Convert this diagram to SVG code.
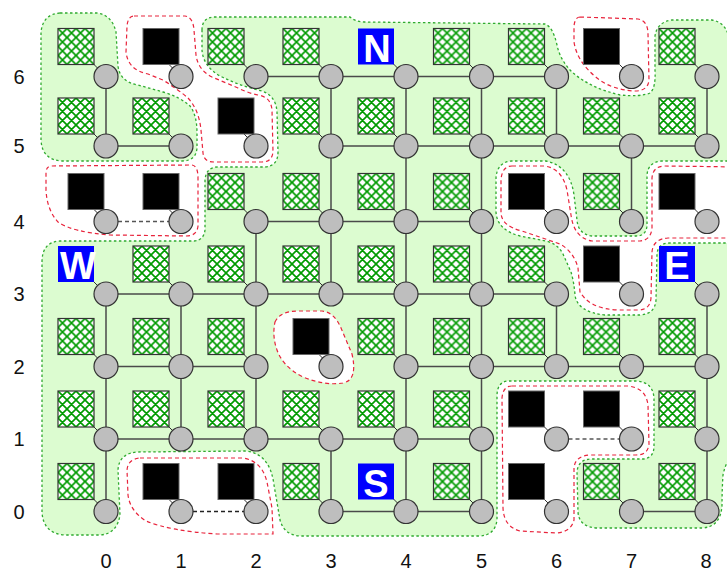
<svg xmlns="http://www.w3.org/2000/svg" width="727" height="573" viewBox="0 0 727 573">
<defs>
<pattern id="hatch" patternUnits="objectBoundingBox" width="0.25" height="0.25" patternContentUnits="objectBoundingBox">
<rect width="0.25" height="0.25" fill="#fff"/>
<path d="M0,0 L.25,.25 M-.0625,.1875 L.0625,.3125 M.1875,-.0625 L.3125,.0625 M.25,0 L0,.25 M-.0625,.0625 L.0625,-.0625 M.1875,.3125 L.3125,.1875" stroke="#009a00" stroke-width="0.046" fill="none"/>
</pattern>
<style>
.reg{fill:#dcfcd0;stroke:#2faa2f;stroke-width:1.3;stroke-dasharray:2.5 2.5}
.fz{fill:none;stroke:#e8243c;stroke-width:1.2;stroke-dasharray:4 3}
.fzw{fill:#fff;stroke:#e8243c;stroke-width:1.2;stroke-dasharray:4 3}
.e{stroke:#4a4a4a;stroke-width:1.5;fill:none}
.d{stroke:#555;stroke-width:1.5;stroke-dasharray:4 3}
.c{fill:#bebebe;stroke:#333;stroke-width:1.2}
.h{fill:url(#hatch);stroke:#333;stroke-width:1.2}
.b{fill:#000;stroke:#666;stroke-width:1}
.l{fill:#0000ff}
.t{stroke:#333;stroke-width:1}
.lt{font-family:"Liberation Sans",Arial,sans-serif;font-weight:bold;font-size:38px;fill:#fff;text-anchor:middle}
.ax{font-family:"Liberation Sans",Arial,sans-serif;font-size:20px;fill:#111;text-anchor:middle}
</style>
</defs>
<g id="regions">
<path class="reg" d="M 60,13 L 97,13 Q 112,15 116,32 L 118,66 Q 120,82 138,85 L 163,92 Q 180,97 190,106 Q 197,115 197,133 L 197,148 Q 196,161 182,161 L 62,161 Q 42,160 41,140 L 41,32 Q 43,14 60,13 Z"/>
<path class="reg" d="M 202,30 Q 202,17 215,17 L 350,17 Q 356,22 364,22 L 545,24 Q 553,27 557,45 Q 560,60 572,72 Q 590,88 620,95 Q 640,97 650,93 Q 656,88 655,70 L 655,36 Q 657,22 672,20 L 712,20 Q 724,22 728,34 L 740,40 L 740,161 L 662,161 Q 648,162 647,175 L 647,226 Q 646,236 636,236 L 592,236 Q 578,234 577,220 L 574,195 Q 570,166 546,161 L 512,161 Q 497,162 496,178 L 496,212 Q 497,230 520,236 L 546,241 Q 558,244 563,254 L 571,272 Q 574,282 575,295 Q 577,312 605,315 L 640,315 Q 655,314 656,300 L 657,254 Q 658,243 670,243 L 740,243 L 740,452 Q 727,455 723,475 Q 722,490 722,505 Q 721,527 702,528 L 597,528 Q 579,527 578,512 L 577,472 Q 578,459 592,459 L 643,459 Q 654,458 654,446 L 654,398 Q 653,382 636,381 L 508,381 Q 497,382 497,396 L 497,520 Q 495,536 478,536 L 300,536 Q 284,535 280,520 L 274,485 Q 270,453 245,451 L 138,452 Q 119,453 118,470 L 120,515 Q 117,534 100,535 L 64,535 Q 43,533 42,512 L 42,262 Q 42,242 60,241 L 194,241 Q 204,240 205,230 L 205,180 Q 206,167 218,167 L 265,167 Q 278,166 278,152 L 277,112 Q 276,96 262,91 Q 240,86 220,76 Q 203,66 202,50 Z"/>
<path class="fzw" d="M 275,322 Q 280,311 298,311 L 322,311 Q 334,312 341,328 L 352,354 Q 358,380 343,383 Q 325,386 303,377 Q 283,367 277,350 Q 272,336 275,322 Z"/>
<path class="fz" d="M 134,16 L 185,16 Q 193,17 194,30 L 196,55 Q 198,70 212,77 L 238,88 Q 248,93 258,95 Q 271,97 272,110 L 273,152 Q 272,162 262,162 L 214,162 Q 204,162 203,153 L 201,130 Q 199,110 188,98 Q 180,91 163,80 L 148,74 Q 128,70 126,52 L 127,26 Q 128,16 134,16 Z"/>
<path class="fz" d="M 52,166 L 192,165 Q 198,166 198,178 L 198,226 Q 197,236 186,236 L 110,235 Q 72,232 58,222 Q 47,210 46,190 L 46,173 Q 46,166 52,166 Z"/>
<path class="fz" d="M 580,17 L 638,19 Q 648,21 648,34 L 649,80 Q 648,91 635,91 Q 612,90 597,78 Q 577,62 574,42 L 574,26 Q 575,17 580,17 Z"/>
<path class="fz" d="M 512,166 L 544,166 Q 562,168 567,190 L 571,215 Q 574,238 592,241 L 640,241 Q 651,240 652,228 L 652,178 Q 653,166 665,166 L 740,167 L 740,238 L 668,238 Q 653,239 652,252 L 651,298 Q 650,310 638,310 L 618,310 Q 590,309 580,292 L 578,268 Q 574,252 560,244 L 522,231 Q 501,226 501,212 L 501,180 Q 502,166 512,166 Z"/>
<path class="fz" d="M 512,386 L 628,386 Q 646,388 648,405 L 649,444 Q 648,455 636,455 L 590,455 Q 575,456 574,468 L 574,520 Q 571,532 556,533 L 520,531 Q 504,527 503,508 L 502,398 Q 503,386 512,386 Z"/>
<path class="fz" d="M 140,458 L 243,458 Q 262,461 267,482 L 272,508 L 273,534 L 217,534 Q 170,531 146,521 Q 130,511 128,495 L 127,470 Q 128,459 140,458 Z"/>
</g>
<g id="connectors">
<path class="e" d="M256,76.5H556.5 M106,146H181 M331,146H707 M256,221.5H481.5 M106,294H556.5 M106,366.5H256 M406,366.5H707 M106,439H481.5 M331,511.5H481.5 M631.5,511.5H707 M106,294V511.5 M106,76.5V146 M181,294V439 M256,221.5V439 M331,76.5V294 M331,439V511.5 M406,76.5V511.5 M481.5,76.5V511.5 M556.5,76.5V146 M556.5,294V366.5 M631.5,146V221.5 M707,76.5V146 M707,294V511.5"/>
<line class="d" x1="118" y1="221.5" x2="169" y2="221.5"/>
<line class="d" x1="193" y1="511.5" x2="244" y2="511.5" style="stroke:#222"/>
<line class="d" x1="568.5" y1="439" x2="619.5" y2="439"/>
</g>
<g id="nodes">
<g id="n0-6"><line class="t" x1="92" y1="62.5" x2="99" y2="69.5"/><rect class="h" x="58" y="28.5" width="36" height="36"/><circle class="c" cx="106" cy="76.5" r="12"/></g>
<g id="n1-6"><line class="t" x1="167" y1="62.5" x2="174" y2="69.5"/><rect class="b" x="143" y="28.5" width="36" height="36"/><circle class="c" cx="181" cy="76.5" r="12"/></g>
<g id="n2-6"><line class="t" x1="242" y1="62.5" x2="249" y2="69.5"/><rect class="h" x="208" y="28.5" width="36" height="36"/><circle class="c" cx="256" cy="76.5" r="12"/></g>
<g id="n3-6"><line class="t" x1="317" y1="62.5" x2="324" y2="69.5"/><rect class="h" x="283" y="28.5" width="36" height="36"/><circle class="c" cx="331" cy="76.5" r="12"/></g>
<g id="n4-6"><line class="t" x1="392" y1="62.5" x2="399" y2="69.5"/><rect class="l" x="358" y="28.5" width="36" height="36"/><text class="lt" x="377" y="61.5">N</text><circle class="c" cx="406" cy="76.5" r="12"/></g>
<g id="n5-6"><line class="t" x1="467.5" y1="62.5" x2="474.5" y2="69.5"/><rect class="h" x="433.5" y="28.5" width="36" height="36"/><circle class="c" cx="481.5" cy="76.5" r="12"/></g>
<g id="n6-6"><line class="t" x1="542.5" y1="62.5" x2="549.5" y2="69.5"/><rect class="h" x="508.5" y="28.5" width="36" height="36"/><circle class="c" cx="556.5" cy="76.5" r="12"/></g>
<g id="n7-6"><line class="t" x1="617.5" y1="62.5" x2="624.5" y2="69.5"/><rect class="b" x="583.5" y="28.5" width="36" height="36"/><circle class="c" cx="631.5" cy="76.5" r="12"/></g>
<g id="n8-6"><line class="t" x1="693" y1="62.5" x2="700" y2="69.5"/><rect class="h" x="659" y="28.5" width="36" height="36"/><circle class="c" cx="707" cy="76.5" r="12"/></g>

<g id="n0-5"><line class="t" x1="92" y1="132" x2="99" y2="139"/><rect class="h" x="58" y="98" width="36" height="36"/><circle class="c" cx="106" cy="146" r="12"/></g>
<g id="n1-5"><line class="t" x1="167" y1="132" x2="174" y2="139"/><rect class="h" x="133" y="98" width="36" height="36"/><circle class="c" cx="181" cy="146" r="12"/></g>
<g id="n2-5"><line class="t" x1="242" y1="132" x2="249" y2="139"/><rect class="b" x="218" y="98" width="36" height="36"/><circle class="c" cx="256" cy="146" r="12"/></g>
<g id="n3-5"><line class="t" x1="317" y1="132" x2="324" y2="139"/><rect class="h" x="283" y="98" width="36" height="36"/><circle class="c" cx="331" cy="146" r="12"/></g>
<g id="n4-5"><line class="t" x1="392" y1="132" x2="399" y2="139"/><rect class="h" x="358" y="98" width="36" height="36"/><circle class="c" cx="406" cy="146" r="12"/></g>
<g id="n5-5"><line class="t" x1="467.5" y1="132" x2="474.5" y2="139"/><rect class="h" x="433.5" y="98" width="36" height="36"/><circle class="c" cx="481.5" cy="146" r="12"/></g>
<g id="n6-5"><line class="t" x1="542.5" y1="132" x2="549.5" y2="139"/><rect class="h" x="508.5" y="98" width="36" height="36"/><circle class="c" cx="556.5" cy="146" r="12"/></g>
<g id="n7-5"><line class="t" x1="617.5" y1="132" x2="624.5" y2="139"/><rect class="h" x="583.5" y="98" width="36" height="36"/><circle class="c" cx="631.5" cy="146" r="12"/></g>
<g id="n8-5"><line class="t" x1="693" y1="132" x2="700" y2="139"/><rect class="h" x="659" y="98" width="36" height="36"/><circle class="c" cx="707" cy="146" r="12"/></g>

<g id="n0-4"><line class="t" x1="92" y1="207.5" x2="99" y2="214.5"/><rect class="b" x="68" y="173.5" width="36" height="36"/><circle class="c" cx="106" cy="221.5" r="12"/></g>
<g id="n1-4"><line class="t" x1="167" y1="207.5" x2="174" y2="214.5"/><rect class="b" x="143" y="173.5" width="36" height="36"/><circle class="c" cx="181" cy="221.5" r="12"/></g>
<g id="n2-4"><line class="t" x1="242" y1="207.5" x2="249" y2="214.5"/><rect class="h" x="208" y="173.5" width="36" height="36"/><circle class="c" cx="256" cy="221.5" r="12"/></g>
<g id="n3-4"><line class="t" x1="317" y1="207.5" x2="324" y2="214.5"/><rect class="h" x="283" y="173.5" width="36" height="36"/><circle class="c" cx="331" cy="221.5" r="12"/></g>
<g id="n4-4"><line class="t" x1="392" y1="207.5" x2="399" y2="214.5"/><rect class="h" x="358" y="173.5" width="36" height="36"/><circle class="c" cx="406" cy="221.5" r="12"/></g>
<g id="n5-4"><line class="t" x1="467.5" y1="207.5" x2="474.5" y2="214.5"/><rect class="h" x="433.5" y="173.5" width="36" height="36"/><circle class="c" cx="481.5" cy="221.5" r="12"/></g>
<g id="n6-4"><line class="t" x1="542.5" y1="207.5" x2="549.5" y2="214.5"/><rect class="b" x="508.5" y="173.5" width="36" height="36"/><circle class="c" cx="556.5" cy="221.5" r="12"/></g>
<g id="n7-4"><line class="t" x1="617.5" y1="207.5" x2="624.5" y2="214.5"/><rect class="h" x="583.5" y="173.5" width="36" height="36"/><circle class="c" cx="631.5" cy="221.5" r="12"/></g>
<g id="n8-4"><line class="t" x1="693" y1="207.5" x2="700" y2="214.5"/><rect class="b" x="659" y="173.5" width="36" height="36"/><circle class="c" cx="707" cy="221.5" r="12"/></g>

<g id="n0-3"><line class="t" x1="92" y1="280" x2="99" y2="287"/><rect class="l" x="58" y="246" width="36" height="36"/><text class="lt" x="78" y="279">W</text><circle class="c" cx="106" cy="294" r="12"/></g>
<g id="n1-3"><line class="t" x1="167" y1="280" x2="174" y2="287"/><rect class="h" x="133" y="246" width="36" height="36"/><circle class="c" cx="181" cy="294" r="12"/></g>
<g id="n2-3"><line class="t" x1="242" y1="280" x2="249" y2="287"/><rect class="h" x="208" y="246" width="36" height="36"/><circle class="c" cx="256" cy="294" r="12"/></g>
<g id="n3-3"><line class="t" x1="317" y1="280" x2="324" y2="287"/><rect class="h" x="283" y="246" width="36" height="36"/><circle class="c" cx="331" cy="294" r="12"/></g>
<g id="n4-3"><line class="t" x1="392" y1="280" x2="399" y2="287"/><rect class="h" x="358" y="246" width="36" height="36"/><circle class="c" cx="406" cy="294" r="12"/></g>
<g id="n5-3"><line class="t" x1="467.5" y1="280" x2="474.5" y2="287"/><rect class="h" x="433.5" y="246" width="36" height="36"/><circle class="c" cx="481.5" cy="294" r="12"/></g>
<g id="n6-3"><line class="t" x1="542.5" y1="280" x2="549.5" y2="287"/><rect class="h" x="508.5" y="246" width="36" height="36"/><circle class="c" cx="556.5" cy="294" r="12"/></g>
<g id="n7-3"><line class="t" x1="617.5" y1="280" x2="624.5" y2="287"/><rect class="b" x="583.5" y="246" width="36" height="36"/><circle class="c" cx="631.5" cy="294" r="12"/></g>
<g id="n8-3"><line class="t" x1="693" y1="280" x2="700" y2="287"/><rect class="l" x="659" y="246" width="36" height="36"/><text class="lt" x="677" y="279">E</text><circle class="c" cx="707" cy="294" r="12"/></g>

<g id="n0-2"><line class="t" x1="92" y1="352.5" x2="99" y2="359.5"/><rect class="h" x="58" y="318.5" width="36" height="36"/><circle class="c" cx="106" cy="366.5" r="12"/></g>
<g id="n1-2"><line class="t" x1="167" y1="352.5" x2="174" y2="359.5"/><rect class="h" x="133" y="318.5" width="36" height="36"/><circle class="c" cx="181" cy="366.5" r="12"/></g>
<g id="n2-2"><line class="t" x1="242" y1="352.5" x2="249" y2="359.5"/><rect class="h" x="208" y="318.5" width="36" height="36"/><circle class="c" cx="256" cy="366.5" r="12"/></g>
<g id="n3-2"><line class="t" x1="317" y1="352.5" x2="324" y2="359.5"/><rect class="b" x="293" y="318.5" width="36" height="36"/><circle class="c" cx="331" cy="366.5" r="12"/></g>
<g id="n4-2"><line class="t" x1="392" y1="352.5" x2="399" y2="359.5"/><rect class="h" x="358" y="318.5" width="36" height="36"/><circle class="c" cx="406" cy="366.5" r="12"/></g>
<g id="n5-2"><line class="t" x1="467.5" y1="352.5" x2="474.5" y2="359.5"/><rect class="h" x="433.5" y="318.5" width="36" height="36"/><circle class="c" cx="481.5" cy="366.5" r="12"/></g>
<g id="n6-2"><line class="t" x1="542.5" y1="352.5" x2="549.5" y2="359.5"/><rect class="h" x="508.5" y="318.5" width="36" height="36"/><circle class="c" cx="556.5" cy="366.5" r="12"/></g>
<g id="n7-2"><line class="t" x1="617.5" y1="352.5" x2="624.5" y2="359.5"/><rect class="h" x="583.5" y="318.5" width="36" height="36"/><circle class="c" cx="631.5" cy="366.5" r="12"/></g>
<g id="n8-2"><line class="t" x1="693" y1="352.5" x2="700" y2="359.5"/><rect class="h" x="659" y="318.5" width="36" height="36"/><circle class="c" cx="707" cy="366.5" r="12"/></g>

<g id="n0-1"><line class="t" x1="92" y1="425" x2="99" y2="432"/><rect class="h" x="58" y="391" width="36" height="36"/><circle class="c" cx="106" cy="439" r="12"/></g>
<g id="n1-1"><line class="t" x1="167" y1="425" x2="174" y2="432"/><rect class="h" x="133" y="391" width="36" height="36"/><circle class="c" cx="181" cy="439" r="12"/></g>
<g id="n2-1"><line class="t" x1="242" y1="425" x2="249" y2="432"/><rect class="h" x="208" y="391" width="36" height="36"/><circle class="c" cx="256" cy="439" r="12"/></g>
<g id="n3-1"><line class="t" x1="317" y1="425" x2="324" y2="432"/><rect class="h" x="283" y="391" width="36" height="36"/><circle class="c" cx="331" cy="439" r="12"/></g>
<g id="n4-1"><line class="t" x1="392" y1="425" x2="399" y2="432"/><rect class="h" x="358" y="391" width="36" height="36"/><circle class="c" cx="406" cy="439" r="12"/></g>
<g id="n5-1"><line class="t" x1="467.5" y1="425" x2="474.5" y2="432"/><rect class="h" x="433.5" y="391" width="36" height="36"/><circle class="c" cx="481.5" cy="439" r="12"/></g>
<g id="n6-1"><line class="t" x1="542.5" y1="425" x2="549.5" y2="432"/><rect class="b" x="508.5" y="391" width="36" height="36"/><circle class="c" cx="556.5" cy="439" r="12"/></g>
<g id="n7-1"><line class="t" x1="617.5" y1="425" x2="624.5" y2="432"/><rect class="b" x="583.5" y="391" width="36" height="36"/><circle class="c" cx="631.5" cy="439" r="12"/></g>
<g id="n8-1"><line class="t" x1="693" y1="425" x2="700" y2="432"/><rect class="h" x="659" y="391" width="36" height="36"/><circle class="c" cx="707" cy="439" r="12"/></g>

<g id="n0-0"><line class="t" x1="92" y1="497.5" x2="99" y2="504.5"/><rect class="h" x="58" y="463.5" width="36" height="36"/><circle class="c" cx="106" cy="511.5" r="12"/></g>
<g id="n1-0"><line class="t" x1="167" y1="497.5" x2="174" y2="504.5"/><rect class="b" x="143" y="463.5" width="36" height="36"/><circle class="c" cx="181" cy="511.5" r="12"/></g>
<g id="n2-0"><line class="t" x1="242" y1="497.5" x2="249" y2="504.5"/><rect class="b" x="218" y="463.5" width="36" height="36"/><circle class="c" cx="256" cy="511.5" r="12"/></g>
<g id="n3-0"><line class="t" x1="317" y1="497.5" x2="324" y2="504.5"/><rect class="h" x="283" y="463.5" width="36" height="36"/><circle class="c" cx="331" cy="511.5" r="12"/></g>
<g id="n4-0"><line class="t" x1="392" y1="497.5" x2="399" y2="504.5"/><rect class="l" x="358" y="463.5" width="36" height="36"/><text class="lt" x="376" y="496.5">S</text><circle class="c" cx="406" cy="511.5" r="12"/></g>
<g id="n5-0"><line class="t" x1="467.5" y1="497.5" x2="474.5" y2="504.5"/><rect class="h" x="433.5" y="463.5" width="36" height="36"/><circle class="c" cx="481.5" cy="511.5" r="12"/></g>
<g id="n6-0"><line class="t" x1="542.5" y1="497.5" x2="549.5" y2="504.5"/><rect class="b" x="508.5" y="463.5" width="36" height="36"/><circle class="c" cx="556.5" cy="511.5" r="12"/></g>
<g id="n7-0"><line class="t" x1="617.5" y1="497.5" x2="624.5" y2="504.5"/><rect class="h" x="583.5" y="463.5" width="36" height="36"/><circle class="c" cx="631.5" cy="511.5" r="12"/></g>
<g id="n8-0"><line class="t" x1="693" y1="497.5" x2="700" y2="504.5"/><rect class="h" x="659" y="463.5" width="36" height="36"/><circle class="c" cx="707" cy="511.5" r="12"/></g>
</g>
<g id="axes">
<text class="ax" x="19" y="83.5">6</text>
<text class="ax" x="19" y="153">5</text>
<text class="ax" x="19" y="228.5">4</text>
<text class="ax" x="19" y="301">3</text>
<text class="ax" x="19" y="373.5">2</text>
<text class="ax" x="19" y="446">1</text>
<text class="ax" x="19" y="518.5">0</text>
<text class="ax" x="106" y="568">0</text>
<text class="ax" x="181" y="568">1</text>
<text class="ax" x="256" y="568">2</text>
<text class="ax" x="331" y="568">3</text>
<text class="ax" x="406" y="568">4</text>
<text class="ax" x="481.5" y="568">5</text>
<text class="ax" x="556.5" y="568">6</text>
<text class="ax" x="631.5" y="568">7</text>
<text class="ax" x="706" y="568">8</text>
</g>
</svg>
